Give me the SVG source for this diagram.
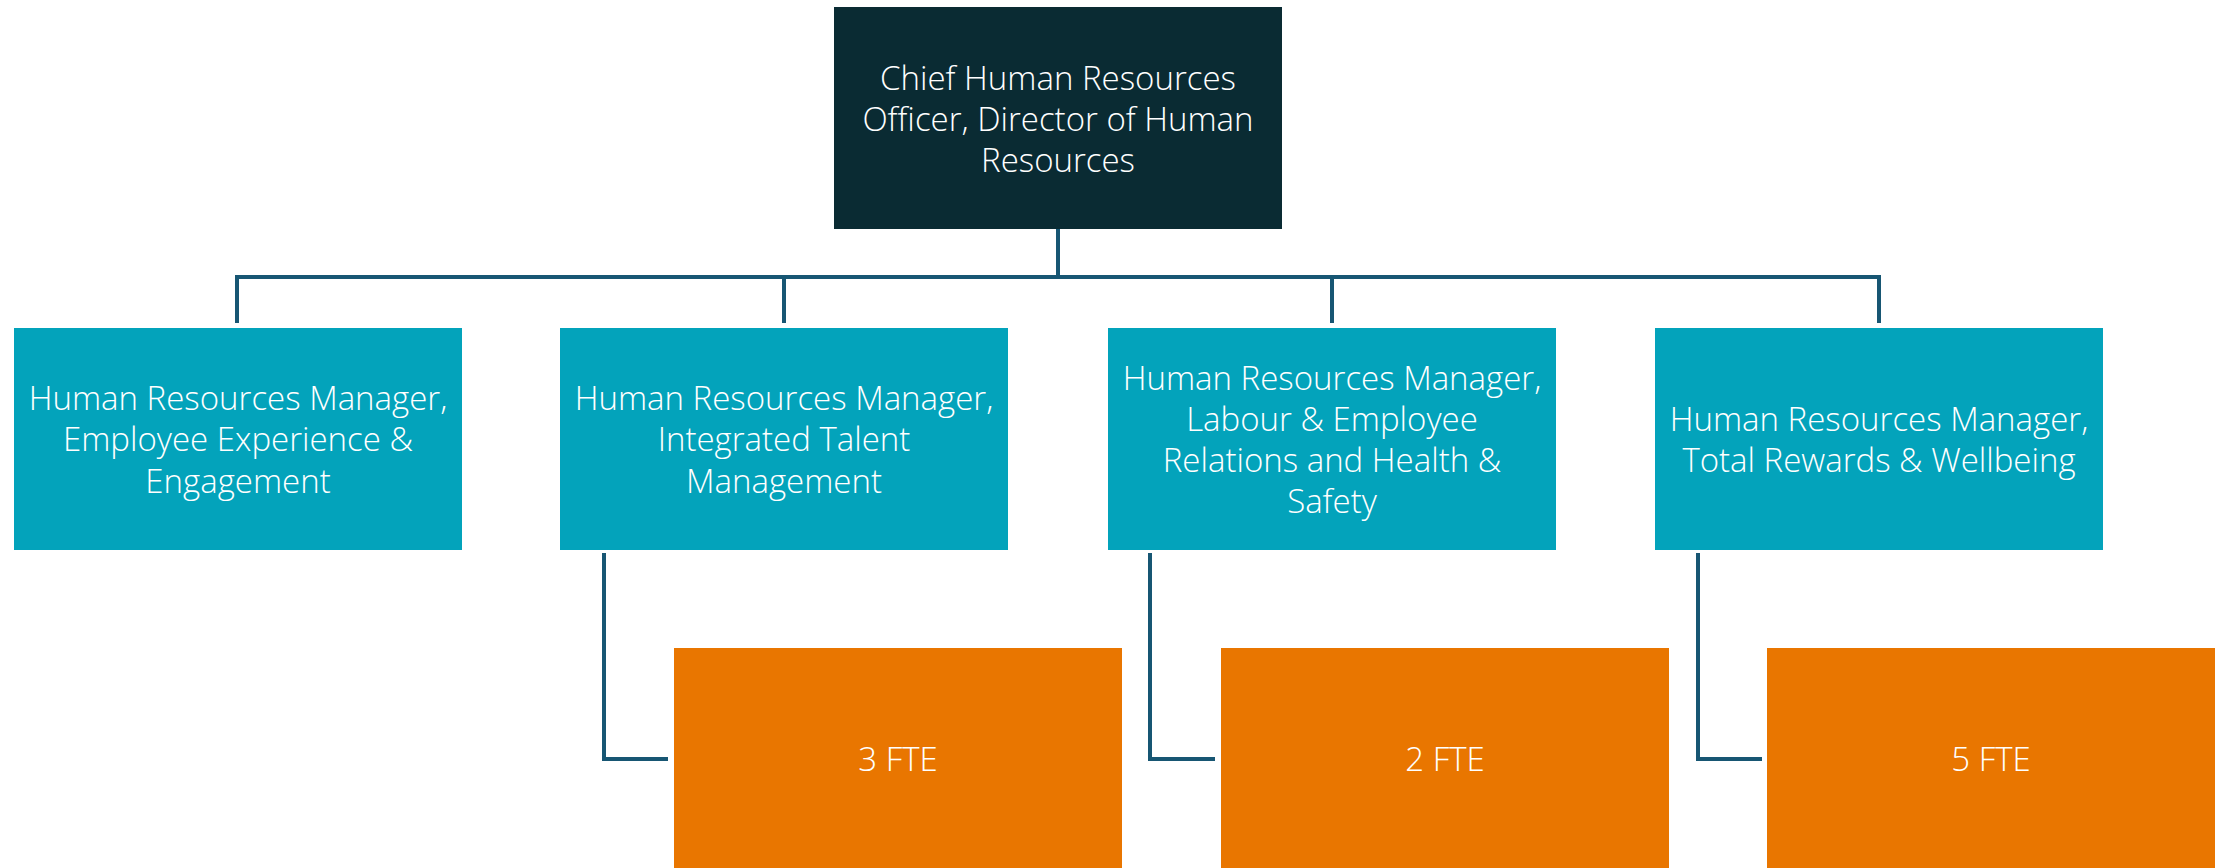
<svg xmlns="http://www.w3.org/2000/svg" width="2224" height="868" viewBox="0 0 2224 868">
<style>
.top{fill:#0a2b33}
.mgr{fill:#03a3bb}
.fte{fill:#e97600}
.t{font-family:"Open Sans","Noto Sans","Liberation Sans",sans-serif;font-size:33px;font-weight:300;fill:#ffffff;text-anchor:middle}
.c{fill:none;stroke:#175673;stroke-width:4}
</style>
<rect width="2224" height="868" fill="#ffffff"/>
<g id="connectors">
<path class="c" d="M1058 229V277M237 277H1879M237 275V323M784 275V323M1332 275V323M1879 275V323"/>
<path class="c" d="M604 553V759H668"/>
<path class="c" d="M1150 553V759H1215"/>
<path class="c" d="M1698 553V759H1762"/>
</g>
<g id="chro">
<rect class="top" x="834" y="7" width="448" height="222"/>
<text class="t" x="1058" y="90">Chief Human Resources</text>
<text class="t" x="1058" y="131">Officer, Director of Human</text>
<text class="t" x="1058" y="172">Resources</text>
</g>
<g id="mgr1">
<rect class="mgr" x="14" y="328" width="448" height="222"/>
<text class="t" x="238" y="410">Human Resources Manager,</text>
<text class="t" x="238" y="451">Employee Experience &amp;</text>
<text class="t" x="238" y="493">Engagement</text>
</g>
<g id="mgr2">
<rect class="mgr" x="560" y="328" width="448" height="222"/>
<text class="t" x="784" y="410">Human Resources Manager,</text>
<text class="t" x="784" y="451">Integrated Talent</text>
<text class="t" x="784" y="493">Management</text>
</g>
<g id="mgr3">
<rect class="mgr" x="1108" y="328" width="448" height="222"/>
<text class="t" x="1332" y="390">Human Resources Manager,</text>
<text class="t" x="1332" y="431">Labour &amp; Employee</text>
<text class="t" x="1332" y="472">Relations and Health &amp;</text>
<text class="t" x="1332" y="513">Safety</text>
</g>
<g id="mgr4">
<rect class="mgr" x="1655" y="328" width="448" height="222"/>
<text class="t" x="1879" y="431">Human Resources Manager,</text>
<text class="t" x="1879" y="472">Total Rewards &amp; Wellbeing</text>
</g>
<g id="fte1">
<rect class="fte" x="674" y="648" width="448" height="222"/>
<text class="t" x="898" y="771">3 FTE</text>
</g>
<g id="fte2">
<rect class="fte" x="1221" y="648" width="448" height="222"/>
<text class="t" x="1445" y="771">2 FTE</text>
</g>
<g id="fte3">
<rect class="fte" x="1767" y="648" width="448" height="222"/>
<text class="t" x="1991" y="771">5 FTE</text>
</g>
</svg>
